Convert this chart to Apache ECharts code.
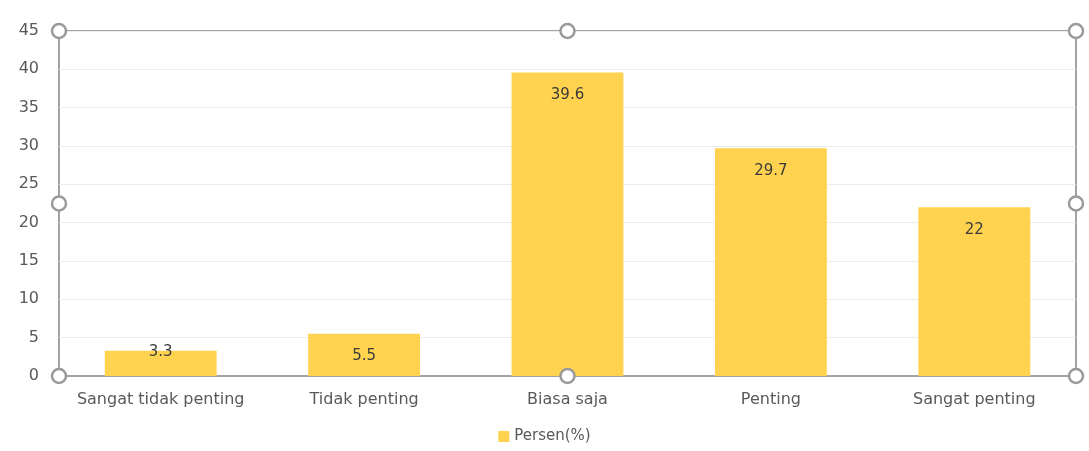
<!DOCTYPE html>
<html><head><meta charset="utf-8">
<script src="https://cdn.jsdelivr.net/npm/echarts@6/dist/echarts.min.js"></script>
<style>html,body{margin:0;padding:0;background:#fff}#c{width:1089px;height:451px}</style>
</head><body><div id="c"></div>
<script>
const categories = ['Sangat tidak penting', 'Tidak penting', 'Biasa saja', 'Penting', 'Sangat penting'];
const persen = [3.3, 5.5, 39.6, 29.7, 22];
const seriesName = 'Persen(%)';

const FONT = 'DejaVu Sans';
const chart = echarts.init(document.getElementById('c'));
const L = 59, T = 31, R = 1076, B = 376;
const mx = (L + R) / 2, my = (T + B) / 2;
const handles = [[L,T],[mx,T],[R,T],[L,my],[R,my],[L,B],[mx,B],[R,B]].map(p => ({
  type: 'circle', shape: { cx: p[0], cy: p[1], r: 7 },
  style: { fill: '#fff', stroke: '#9a9a9a', lineWidth: 2.5 }, z: 100
}));
chart.setOption({
  animation: false,
  textStyle: { fontFamily: FONT },
  grid: { left: L, right: 1089 - R, top: T, bottom: 451 - B, show: true, borderColor: '#a3a3a3', borderWidth: 2, containLabel: false },
  legend: {
    bottom: 2, left: 'center', itemWidth: 11, itemHeight: 11, icon: 'rect', itemGap: 5,
    textStyle: { color: '#595959', fontSize: 15, fontFamily: FONT }
  },
  xAxis: {
    type: 'category', data: categories,
    axisLine: { show: true, lineStyle: { color: '#a3a3a3', width: 2 } },
    axisTick: { show: false },
    axisLabel: { color: '#595959', fontSize: 16, margin: 16, fontFamily: FONT, interval: 0, hideOverlap: false }
  },
  yAxis: {
    type: 'value', min: 0, max: 45, interval: 5,
    axisLine: { show: false }, axisTick: { show: false },
    axisLabel: { color: '#595959', fontSize: 16, margin: 20, fontFamily: FONT },
    splitLine: { lineStyle: { color: '#ececec', width: 1 } }
  },
  series: [{
    name: seriesName, type: 'bar', barCategoryGap: '45%',
    itemStyle: { color: '#FFD34F' },
    data: persen.map((v, i) => i === 0 ? { value: v, label: { position: 'insideTop', distance: -6 } } : v),
    label: { show: true, position: 'insideTop', distance: 15, color: '#3a3a3a', fontSize: 15, fontFamily: FONT }
  }],
  graphic: handles
});
</script></body></html>
